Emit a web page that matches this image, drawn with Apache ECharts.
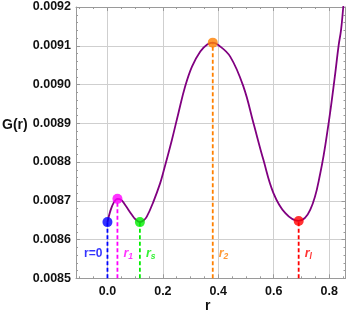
<!DOCTYPE html>
<html><head><meta charset="utf-8">
<script src="https://cdn.jsdelivr.net/npm/echarts@6/dist/echarts.min.js"></script>
<style>html,body{margin:0;padding:0;background:#fff}#c{width:350px;height:319px}</style>
</head><body><div id="c"></div>
<script>
// ---- data ----
const curveR = [0, 0.0097, 0.0217, 0.036, 0.05, 0.064, 0.088, 0.1, 0.117, 0.13, 0.142, 0.166, 0.19, 0.202, 0.2325, 0.256, 0.28, 0.305, 0.335, 0.36, 0.38, 0.40, 0.443, 0.491, 0.527, 0.563, 0.599, 0.642, 0.69, 0.732, 0.768, 0.798, 0.822, 0.834, 0.843, 0.851, 0.858];
const curveG = [0.008645, 0.008672, 0.008694, 0.008705, 0.008702, 0.008689, 0.008664, 0.008653, 0.008645, 0.008649, 0.008659, 0.008698, 0.008745, 0.008775, 0.008857, 0.008926, 0.008994, 0.009046, 0.009085, 0.009103, 0.009108, 0.009102, 0.009072, 0.008994, 0.0089, 0.008805, 0.00872, 0.008668, 0.008648, 0.008677, 0.008771, 0.0089, 0.009029, 0.0091, 0.009141, 0.0092, 0.00925];

const pointLabels = ['r=0', '{i|r}{s|1}', '{i|r}{s|s}', '{i|r}{s|2}', '{i|r}{s|l}'];
const pointR = [0, 0.036, 0.117, 0.38, 0.69];
const pointG = [0.008645, 0.008705, 0.008645, 0.009108, 0.008648];
const pointColors = ['#0000ff', '#ff00ff', '#00ee00', '#ff8000', '#ff0000'];

const xMajorTicks = [0, 0.2, 0.4, 0.6, 0.8];
const xMinorTicks = [-0.1, -0.05, 0.05, 0.1, 0.15, 0.25, 0.3, 0.35, 0.45, 0.5, 0.55, 0.65, 0.7, 0.75, 0.85];
const yMajorTicks = [0.0085, 0.0086, 0.0087, 0.0088, 0.0089, 0.0090, 0.0091, 0.0092];
const yMinorTicks = [0.00852, 0.00854, 0.00856, 0.00858, 0.00862, 0.00864, 0.00866, 0.00868,
  0.00872, 0.00874, 0.00876, 0.00878, 0.00882, 0.00884, 0.00886, 0.00888,
  0.00892, 0.00894, 0.00896, 0.00898, 0.00902, 0.00904, 0.00906, 0.00908,
  0.00912, 0.00914, 0.00916, 0.00918];

const X_MIN = -0.1135, X_MAX = 0.859, Y_MIN = 0.0085, Y_MAX = 0.0092;
const AXIS_COLOR = '#9a9a9a', GRID_COLOR = '#cfcfcf';
const FONT = 'Liberation Sans, Arial, sans-serif';

function xAxisDef(pos, ticks, len, main) {
  return {
    type: 'value', position: pos, min: X_MIN, max: X_MAX,
    axisLine: { show: main, onZero: false, lineStyle: { color: AXIS_COLOR, width: 1 } },
    axisTick: { show: true, inside: true, length: len, customValues: ticks, lineStyle: { color: AXIS_COLOR } },
    axisLabel: main && pos === 'bottom' ? {
      show: true, customValues: ticks, margin: 7, color: '#111', fontWeight: 'bold', fontSize: 12.5, fontFamily: FONT,
      formatter: v => v.toFixed(1)
    } : { show: false },
    splitLine: { show: main && pos === 'bottom', lineStyle: { color: GRID_COLOR, width: 1 } }
  };
}
function yAxisDef(pos, ticks, len, main) {
  return {
    type: 'value', position: pos, min: Y_MIN, max: Y_MAX,
    axisLine: { show: main, onZero: false, lineStyle: { color: AXIS_COLOR, width: 1 } },
    axisTick: { show: true, inside: true, length: len, customValues: ticks, lineStyle: { color: AXIS_COLOR } },
    axisLabel: main && pos === 'left' ? {
      show: true, customValues: ticks, margin: 5, color: '#111', fontWeight: 'bold', fontSize: 12.5, fontFamily: FONT,
      formatter: v => v.toFixed(4)
    } : { show: false },
    splitLine: { show: main && pos === 'left', lineStyle: { color: GRID_COLOR, width: 1 } }
  };
}

const series = [];
// dashed vertical guides
pointR.forEach((r, i) => {
  series.push({
    type: 'line', xAxisIndex: 0, yAxisIndex: 0, z: 2, silent: true,
    symbol: 'none', animation: false,
    lineStyle: { color: pointColors[i], width: 1.8, type: [4, 2.5] },
    data: [[r, Y_MIN], [r, pointG[i]]]
  });
});
// labels anchored at the foot of each guide
series.push({
  type: 'scatter', xAxisIndex: 0, yAxisIndex: 0, z: 5, symbolSize: 0, silent: true, animation: false,
  data: pointR.map((r, i) => {
    const isLeft = i === 0;
    const c = pointColors[i];
    return {
      value: [r, Y_MIN],
      itemStyle: { color: 'rgba(0,0,0,0)' },
      label: {
        show: true, position: isLeft ? 'left' : 'right', distance: isLeft ? 5 : 6,
        offset: [0, -25], formatter: pointLabels[i], color: c,
        fontSize: 12, fontWeight: 'bold', fontFamily: FONT,
        rich: {
          i: { fontSize: 12.5, fontStyle: 'italic', fontWeight: 'bold', color: c, fontFamily: FONT, lineHeight: 16, verticalAlign: 'middle' },
          s: { fontSize: 8.5, fontStyle: 'italic', fontWeight: 'bold', color: c, fontFamily: FONT, lineHeight: 16, verticalAlign: 'bottom', padding: [6, 0, 0, 0] }
        }
      }
    };
  })
});
// curve
series.push({
  type: 'line', xAxisIndex: 0, yAxisIndex: 0, z: 3, clip: true,
  symbol: 'none', smooth: 0.4, animation: false,
  lineStyle: { color: '#800080', width: 1.8 },
  data: curveR.map((r, i) => [r, curveG[i]])
});
// dots
series.push({
  type: 'scatter', xAxisIndex: 0, yAxisIndex: 0, z: 4, symbolSize: 10, animation: false,
  data: pointR.map((r, i) => ({ value: [r, pointG[i]], itemStyle: { color: pointColors[i] } }))
});

const chart = echarts.init(document.getElementById('c'), null, { renderer: 'canvas' });
chart.setOption({
  animation: false,
  backgroundColor: '#ffffff',
  grid: { left: 76, right: 4.5, top: 7, bottom: 40.7, containLabel: false, outerBoundsMode: 'none' },
  xAxis: [
    xAxisDef('bottom', xMajorTicks, 4, true),
    xAxisDef('bottom', xMinorTicks, 2, false),
    xAxisDef('top', xMajorTicks, 4, true),
    xAxisDef('top', xMinorTicks, 2, false)
  ],
  yAxis: [
    yAxisDef('left', yMajorTicks, 4, true),
    yAxisDef('left', yMinorTicks, 2, false),
    yAxisDef('right', yMajorTicks, 4, true),
    yAxisDef('right', yMinorTicks, 2, false)
  ],
  graphic: [
    { type: 'text', left: 2, top: 118, style: { text: 'G(r)', font: 'bold 14px ' + FONT, fill: '#111' } },
    { type: 'text', left: 205, top: 299, style: { text: 'r', font: 'bold 14px ' + FONT, fill: '#111' } }
  ],
  series: series
});
</script>
</body></html>
